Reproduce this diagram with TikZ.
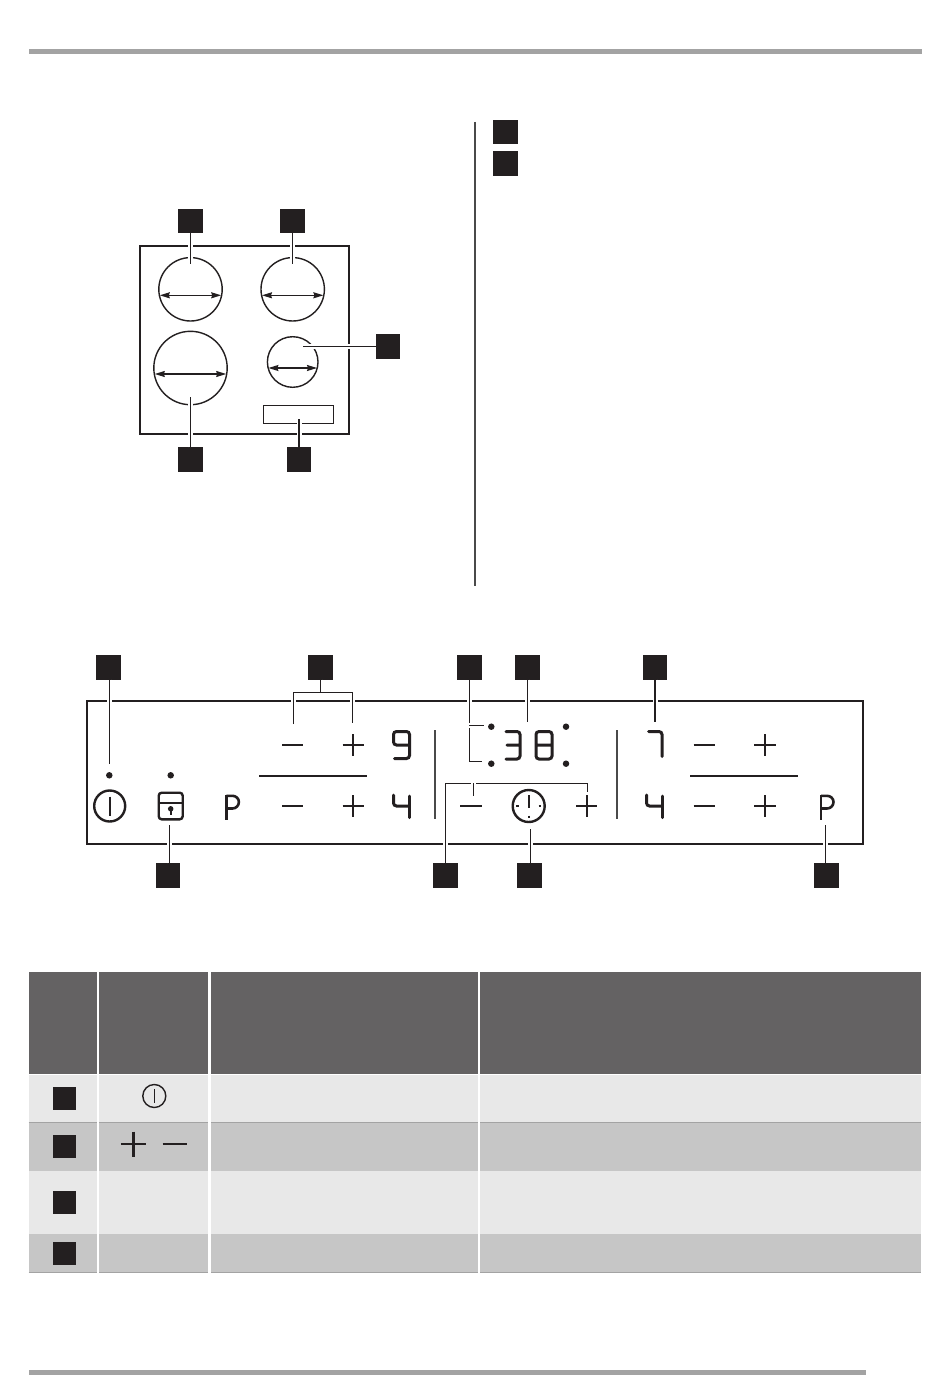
\documentclass[tikz,border=0pt]{standalone}
\usepackage{xcolor}
\usetikzlibrary{positioning,arrows.meta}
\definecolor{tagblack}{HTML}{231F20}
\definecolor{barGray}{HTML}{A3A3A3}
\definecolor{headGray}{HTML}{646263}
\definecolor{rowLight}{HTML}{E8E8E8}
\definecolor{rowDark}{HTML}{C6C6C6}
\definecolor{sepGray}{HTML}{4A4A4A}
\newcommand{\plussign}[2]{\draw[sym] (#1-10.7,#2) -- (#1+10.7,#2) (#1,#2-10.7) -- (#1,#2+10.7);}
\newcommand{\minussign}[2]{\draw[sym] (#1-10.7,#2) -- (#1+10.7,#2);}
\newcommand{\ptsign}[1]{
  \draw[sym,line width=2.8pt] (#1,794.5) -- (#1,819.5);
  \draw[sym,line width=2.6pt] (#1,795.8) -- (#1+6,795.8) to[out=0,in=90] (#1+12.5,802) to[out=-90,in=0] (#1+6,808.5) -- (#1,808.5);
}
\tikzset{
  tag/.style={
    rectangle,
    fill=tagblack,
    inner sep=0pt,
    outer sep=0pt,
    minimum size=24.5pt
  },
  rowtag/.style={tag,minimum size=23pt},
  frame/.style={
    rectangle,
    draw=tagblack,
    line width=2.3pt,
    inner sep=0pt,
    outer sep=0pt
  },
  ring/.style={
    circle,
    draw=tagblack,
    line width=1.4pt,
    inner sep=0pt,
    outer sep=0pt
  },
  leader/.style={
    draw=tagblack,
    line width=1.4pt,
    preaction={draw=white,line width=5pt}
  },
  span/.style={
    draw=tagblack,
    line width=1.3pt,
    {Stealth[length=10pt,width=6pt,inset=1pt]}-{Stealth[length=10pt,width=6pt,inset=1pt]}
  },
  sym/.style={draw=tagblack,line width=2.3pt},
  seg/.style={draw=tagblack,line width=3pt,rounded corners=3pt,line cap=round},
  sep/.style={draw=sepGray,line width=2pt},
  bar/.style={draw=barGray,line width=5pt},
  lamp/.style={circle,fill=tagblack,inner sep=0pt,minimum size=6.5pt}
}
\begin{document}
\begin{tikzpicture}[x=1pt,y=-1pt]
      \useasboundingbox[fill=white] (0,0) rectangle (950,1383);
      \draw[bar] (29,52) to (922,52);
      \draw[bar] (29,1372) to (866,1372);
      \draw[sep,line width=1.5pt] (475,122) to (475,586);
      \node [tag] (KeyA) at (505.3,132) {};
      \node [tag, on grid, below=31.5pt of KeyA] (KeyB) {};
      % cooktop
      \node [frame, minimum width=209pt, minimum height=188pt] (Hob) at (244.5,340) {};
      \node [ring, minimum size=63.4pt] (RingA) at (190.5,289.3) {};
      \node [ring, minimum size=63.4pt, on grid, right=102.2pt of RingA] (RingB) {};
      \node [ring, minimum size=73.4pt] (RingC) at (190.5,368) {};
      \node [ring, minimum size=50.6pt] (RingD) at (292.7,362) {};
      \node [frame, line width=1.4pt, minimum width=70pt, minimum height=18pt] (Rating) at (298.3,414.3) {};
      \foreach \ringname in {RingA,RingB,RingC,RingD}{
        \draw[span] ([xshift=1pt,yshift=-6pt]\ringname.west) to ([xshift=-1pt,yshift=-6pt]\ringname.east);
      }
      \node [tag] (HobA) at (190.5,221) {};
      \node [tag, on grid, right=102.2pt of HobA] (HobB) {};
      \node [tag] (HobC) at (388,346.7) {};
      \node [tag] (HobD) at (190.5,459.7) {};
      \node [tag, on grid, right=108.5pt of HobD] (HobE) {};
      \coordinate (EndA) at (190.5,264);
      \coordinate (EndB) at (292.7,264);
      \coordinate (EndC) at (303,346.7);
      \coordinate (EndD) at (190.5,396.7);
      \coordinate (EndE) at (299,419);
      \draw[leader] (HobA) to (EndA);
      \draw[leader] (HobB) to (EndB);
      \draw[leader] (HobC) to (EndC);
      \draw[leader] (HobD) to (EndD);
      \draw[leader] (HobE) to (EndE);
      % control panel
      \node [frame, minimum width=776.6pt, minimum height=142.7pt] (Panel) at (475,772.3) {};
      \draw[sep] (434.7,730) to (434.7,818.5);
      \draw[sep] (617,730) to (617,818.5);
      \draw[sym] (259.3,775.7) to (367.3,775.7);
      \draw[sym] (690,775.7) to (797.7,775.7);
      \foreach \xm/\xp in {292.7/353.3,704.2/765}{
        \minussign{\xm}{745}
        \plussign{\xp}{745}
        \minussign{\xm}{806}
        \plussign{\xp}{806}
      }
      \minussign{470.8}{806}
      \plussign{586.7}{806}
      \node [lamp] (LampA) at (109.3,775.3) {};
      \node [lamp] (LampB) at (170.7,775.3) {};
      \node [lamp] (DotA) at (491.3,726.7) {};
      \node [lamp] (DotB) at (491.3,763.7) {};
      \node [lamp] (DotC) at (566,726.7) {};
      \node [lamp] (DotD) at (566,763.7) {};
      \node [ring, line width=2.4pt, minimum size=31pt] (Power) at (109.7,806) {};
      \draw[sym,line width=2pt] (109.7,796.5) to (109.7,816);
      \node [frame, rounded corners=3pt, line width=2.4pt, minimum width=24pt, minimum height=26.6pt] (Lock) at (170.7,806) {};
      \draw[sym] (158.7,803.3) to (182.7,803.3);
      \node [lamp, minimum size=5.5pt] (KeyHole) at (170.7,808.8) {};
      \draw[sym,line width=2.2pt] (170.7,809) to (170.7,815);
      \ptsign{226.4}
      \ptsign{821}
      \node [ring, line width=2.4pt, minimum size=32pt] (Clock) at (528.7,806) {};
      \draw[sym,line width=2pt] (528.7,795) to (528.7,808);
      \draw[sym,line width=2.4pt] (516.3,806) to (519,806) (538.5,806) to (541.2,806) (528.7,815.5) to (528.7,818.3);
      % digits
      \draw[seg] (409.5,745) -- (393.5,745) -- (393.5,731.5) -- (409.5,731.5) -- (409.5,758.5) -- (394.5,758.5);
      \draw[seg] (393.5,795) -- (393.5,806) -- (409,806);
      \draw[seg] (409.5,796) -- (409.5,817.5);
      \draw[seg] (506,731.5) -- (520,731.5) -- (520,759) -- (506,759) (507,745) -- (519,745);
      \draw[seg] (536,731.5) rectangle (552,759) (536,745) -- (552,745);
      \draw[seg] (648.5,731.5) -- (662,731.5) -- (662,756.5);
      \draw[seg] (646.5,795) -- (646.5,806) -- (661,806);
      \draw[seg] (662,796) -- (662,817.5);
      % callouts on the panel
      \node [tag] (PanelA) at (108.3,667.3) {};
      \node [tag, on grid, right=212pt of PanelA] (PanelB) {};
      \node [tag, on grid, right=149.4pt of PanelB] (PanelC) {};
      \node [tag, on grid, right=57.6pt of PanelC] (PanelD) {};
      \node [tag, on grid, right=127.7pt of PanelD] (PanelE) {};
      \node [tag] (PanelF) at (168,875.7) {};
      \node [tag, on grid, right=277.3pt of PanelF] (PanelG) {};
      \node [tag, on grid, right=84.4pt of PanelG] (PanelH) {};
      \node [tag, on grid, right=297pt of PanelH] (PanelI) {};
      \coordinate (TipA) at (109.3,764.3);
      \coordinate (TipBa) at (293.3,724);
      \coordinate (TipBb) at (352.3,722.7);
      \coordinate (TipCa) at (484.3,725.7);
      \coordinate (TipCb) at (481.7,761.3);
      \coordinate (TipD) at (527.3,722.3);
      \coordinate (TipE) at (655,722);
      \coordinate (TipF) at (169.3,825.3);
      \coordinate (TipGa) at (473.7,795.7);
      \coordinate (TipGb) at (587.3,791.7);
      \coordinate (TipH) at (530.3,829.3);
      \coordinate (TipI) at (825.3,825.3);
      \draw[leader] (TipA |- PanelA.south) to (TipA);
      \draw[leader] (TipBa) to (293.3,692.3) to (352.3,692.3) to (TipBb);
      \draw[leader] (PanelB) to (320.3,692.3);
      \draw[leader] (469.3,680) to (469.3,761.3) to (TipCb);
      \draw[leader] (469.3,725.7) to (TipCa);
      \draw[leader] (PanelD) to (TipD);
      \draw[leader] (PanelE) to (TipE);
      \draw[leader] (TipF |- PanelF.north) to (TipF);
      \draw[leader] (PanelG) to (445.3,783.3) to (587.3,783.3) to (TipGb);
      \draw[leader] (473.7,783.3) to (TipGa);
      \draw[leader] (TipH |- PanelH.north) to (TipH);
      \draw[leader] (TipI |- PanelI.north) to (TipI);
      % table
      \fill[headGray] (28.7,972.3) rectangle (921,1074);
      \fill[rowLight] (28.7,1074.5) rectangle (921,1122);
      \fill[rowDark] (28.7,1122) rectangle (921,1170.7);
      \fill[rowLight] (28.7,1170.7) rectangle (921,1234);
      \fill[rowDark] (28.7,1234) rectangle (921,1272);
      \draw[draw=barGray,line width=0.8pt] (28.7,1122) to (921,1122);
      \draw[draw=barGray,line width=0.8pt] (28.7,1272.5) to (921,1272.5);
      \foreach \gapx in {98.2,209.5,479.2}{
        \draw[draw=white,line width=2.4pt] (\gapx,972) to (\gapx,1273);
      }
      \node [rowtag] (RowA) at (64.7,1098.3) {};
      \node [rowtag, on grid, below=48pt of RowA] (RowB) {};
      \node [rowtag, on grid, below=56pt of RowB] (RowC) {};
      \node [rowtag, on grid, below=51pt of RowC] (RowD) {};
      \node [ring, minimum size=23pt] (RowPower) at (154.3,1096) {};
      \draw[sym,line width=1.4pt] (154.3,1089) to (154.3,1103);
      \draw[sym,line width=2.6pt] (120.8,1144) to (145.8,1144) (133.3,1131.5) to (133.3,1156.5);
      \draw[sym,line width=2.6pt] (162.7,1144) to (187.3,1144);
    \end{tikzpicture}
\end{document}
